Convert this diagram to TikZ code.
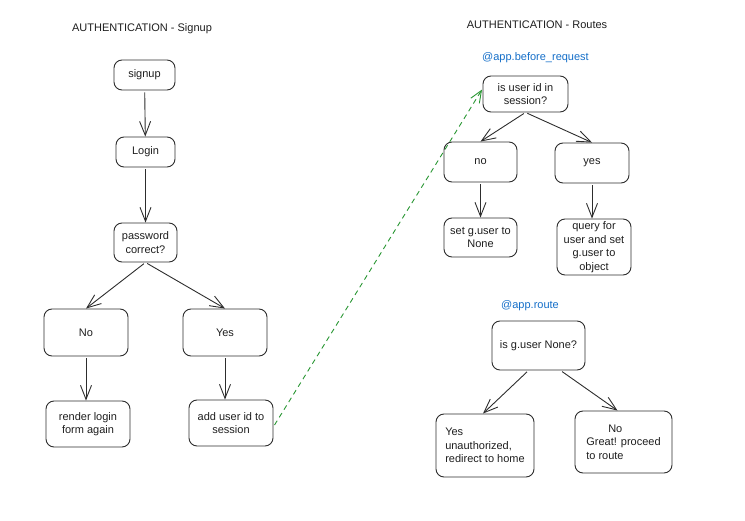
\documentclass[tikz,border=0pt]{standalone}
\usepackage{fontspec}
\setmainfont{Liberation Sans}
\usetikzlibrary{arrows.meta}
\definecolor{boxline}{RGB}{45,45,45}
\definecolor{txtcol}{RGB}{30,30,30}
\definecolor{decor}{RGB}{20,110,200}
\definecolor{linkgreen}{RGB}{40,150,50}
\tikzset{
  flowbox/.style={draw=boxline, line width=0.9pt, rounded corners=8pt, align=center, inner sep=1pt, text=txtcol},
  flowarr/.style={draw=boxline, line width=0.9pt, -{Straight Barb[length=14pt,width=11pt,line width=0.9pt]}, shorten <=2pt},
}
\begin{document}
\begin{tikzpicture}[x=1pt,y=1pt,yscale=-1,xscale=1,font=\fontsize{11}{13.5}\selectfont]
\useasboundingbox (0,0) rectangle (745,521);

% Text Node
\node [text=txtcol] (ttlsign) at (142,29) {AUTHENTICATION - Signup};
% Text Node
\node [text=txtcol] (ttlroute) at (537,25) {AUTHENTICATION - Routes};
% Text Node
\node [text=decor] (dbefore) at (535.5,58) {@app.before\_request};
% Text Node
\node [text=decor] (droute) at (530,306) {@app.route};

%Rounded Rect: signup side
\node [flowbox, minimum width=61, minimum height=30] (signup) at (144.5,75) {signup};
\node [flowbox, minimum width=59, minimum height=30] (login) at (145.5,152) {Login};
\node [flowbox, minimum width=63, minimum height=39] (pwd) at (145.5,242.5) {password\\correct?};
\node [flowbox, minimum width=84, minimum height=47] (pwdno) at (86,332.5) {No};
\node [flowbox, minimum width=84, minimum height=47] (pwdyes) at (225,332.5) {Yes};
\node [flowbox, minimum width=84, minimum height=46] (render) at (88,424) {render login\\form again};
\node [flowbox, minimum width=84, minimum height=46] (addid) at (231,423) {add user id to\\session};

%Rounded Rect: before_request
\node [flowbox, minimum width=85, minimum height=36] (isuid) at (525.5,94) {is user id in\\session?};
\node [flowbox, minimum width=73, minimum height=40] (uidno) at (480.5,162) {no};
\node [flowbox, minimum width=74, minimum height=40] (uidyes) at (592,163) {yes};
\node [flowbox, minimum width=73, minimum height=39] (setnone) at (480.5,237.5) {set g.user to\\None};
\node [flowbox, minimum width=74, minimum height=56] (query) at (594,247) {query for\\user and set\\g.user to\\object};

%Rounded Rect: route
\node [flowbox, minimum width=93, minimum height=49] (gnone) at (538.5,345.5) {is g.user None?};
\node [flowbox, minimum width=98, minimum height=63, align=left] (redir) at (485,445.5) {Yes\\unauthorized,\\redirect to home};
\node [flowbox, minimum width=97, minimum height=62, align=left] (great) at (623.5,442) {\hspace*{22pt}No\\Great! proceed\\to route};

%Straight Lines
\draw [flowarr] (signup) -- (login);
\draw [flowarr] (login) -- (pwd);
\draw [flowarr] (pwd.south) -- (pwdno.north);
\draw [flowarr] (pwd.south) -- (pwdyes.north);
\draw [flowarr] (pwdno.south) -- (pwdno.south |- render.north);
\draw [flowarr] (pwdyes.south) -- (pwdyes.south |- addid.north);
\draw [flowarr] (isuid.south) -- (uidno.north);
\draw [flowarr] (isuid.south) -- (uidyes.north);
\draw [flowarr] (uidno.south) -- (uidno.south |- setnone.north);
\draw [flowarr] (uidyes.south) -- (uidyes.south |- query.north);
\draw [flowarr] ([xshift=-10pt]gnone.south) -- ([xshift=-2pt]redir.north);
\draw [flowarr] ([xshift=22pt]gnone.south) -- ([xshift=-6pt]great.north);

%Straight Lines: link between the two parts
\draw [draw=linkgreen, line width=0.9pt, dash pattern={on 5pt off 4pt}, -{Straight Barb[length=12pt,width=10pt,line width=0.9pt]}, shorten <=2pt, shorten >=1pt] (addid.-5) -- (isuid.173);

\end{tikzpicture}
\end{document}
